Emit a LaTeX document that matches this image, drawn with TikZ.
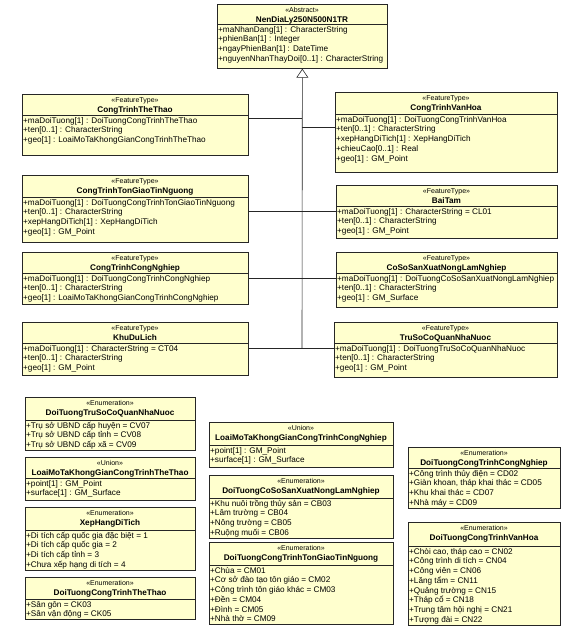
\documentclass[tikz,border=0pt]{standalone}
\usepackage{fontspec}
\setmainfont{Liberation Sans}
\usepackage{tikz}
\usetikzlibrary{arrows.meta,calc,positioning}
\definecolor{classfill}{RGB}{255,255,206}
\tikzset{%
	classbox/.style  = {draw=black!85, fill=classfill, line width=0.7pt, rectangle, inner sep=0pt}, % class frame
	classline/.style = {draw=black!85, line width=0.6pt}, % header rule
	stereo/.style    = {anchor=base, inner sep=0pt, font=\fontsize{7}{8}\selectfont}, % stereotype
	classname/.style = {anchor=base, inner sep=0pt, font=\fontsize{8.2}{10}\selectfont\bfseries}, % class name
	attrs/.style     = {anchor=north west, inner sep=1pt, align=left, font=\fontsize{8.2}{9.7}\selectfont}, % attributes
	link/.style      = {draw=black!85, line width=0.6pt},
	inherit/.style   = {link, -{Triangle[open, length=9pt, width=12pt]}},
}
% name, left, top, right, rule, bottom, stereotype, name text, attributes
\newcommand{\umlbox}[9]{%
	\node[classbox, anchor=north west, minimum width={(#4-#2)*1pt}, minimum height={(#6-#3)*1pt}] (#1) at (#2,#3) {};
	\draw[classline] (#2,#5) -- (#4,#5);
	\node[stereo] at ({(#2+#4)/2},{#3+8.5}) {«#7»};
	\node[classname] at ({(#2+#4)/2},{#3+18}) {#8};
	\node[attrs] at (#2,{#5-2}) {\rule{0pt}{9pt}#9};
}

\begin{document}
\begin{tikzpicture}[x=1pt, y=-1pt]
	\useasboundingbox[fill=white] (0,0) rectangle (575,630);
	% abstract parent
	\umlbox{nenDiaLy}{217}{4}{387}{24}{68}{Abstract}{NenDiaLy250N500N1TR}{+maNhanDang[1] : CharacterString\\+phienBan[1] : Integer\\+ngayPhienBan[1] : DateTime\\+nguyenNhanThayDoi[0..1] : CharacterString}
	% feature types
	\umlbox{theThao}{22}{94}{248}{115}{155}{FeatureType}{CongTrinhTheThao}{+maDoiTuong[1] : DoiTuongCongTrinhTheThao\\+ten[0..1] : CharacterString\\+geo[1] : LoaiMoTaKhongGianCongTrinhTheThao}
	\umlbox{vanHoa}{335}{92}{557}{114}{172}{FeatureType}{CongTrinhVanHoa}{+maDoiTuong[1] : DoiTuongCongTrinhVanHoa\\+ten[0..1] : CharacterString\\+xepHangDiTich[1] : XepHangDiTich\\+chieuCao[0..1] : Real\\+geo[1] : GM\_Point}
	\umlbox{tonGiao}{22}{175}{248}{197}{242}{FeatureType}{CongTrinhTonGiaoTinNguong}{+maDoiTuong[1] : DoiTuongCongTrinhTonGiaoTinNguong\\+ten[0..1] : CharacterString\\+xepHangDiTich[1] : XepHangDiTich\\+geo[1] : GM\_Point}
	\umlbox{baiTam}{336}{185}{557}{206}{238}{FeatureType}{BaiTam}{+maDoiTuong[1] : CharacterString = CL01\\+ten[0..1] : CharacterString\\+geo[1] : GM\_Point}
	\umlbox{congNghiep}{22}{252}{248}{273}{304}{FeatureType}{CongTrinhCongNghiep}{+maDoiTuong[1] : DoiTuongCongTrinhCongNghiep\\+ten[0..1] : CharacterString\\+geo[1] : LoaiMoTaKhongGianCongTrinhCongNghiep}
	\umlbox{coSo}{336}{252}{557}{273}{307}{FeatureType}{CoSoSanXuatNongLamNghiep}{+maDoiTuong[1] : DoiTuongCoSoSanXuatNongLamNghiep\\+ten[0..1] : CharacterString\\+geo[1] : GM\_Surface}
	\umlbox{khuDuLich}{22}{322}{248}{343}{375}{FeatureType}{KhuDuLich}{+maDoiTuong[1] : CharacterString = CT04\\+ten[0..1] : CharacterString\\+geo[1] : GM\_Point}
	\umlbox{truSo}{334}{322}{557}{343}{377}{FeatureType}{TruSoCoQuanNhaNuoc}{+maDoiTuong[1] : DoiTuongTruSoCoQuanNhaNuoc\\+ten[0..1] : CharacterString\\+geo[1] : GM\_Point}
	% enumerations and unions
	\umlbox{enumTruSo}{25}{397}{195}{420}{450}{Enumeration}{DoiTuongTruSoCoQuanNhaNuoc}{+Trụ sở UBND cấp huyện = CV07\\+Trụ sở UBND cấp tỉnh = CV08\\+Trụ sở UBND cấp xã = CV09}
	\umlbox{unionTheThao}{25}{457}{195}{478}{500}{Union}{LoaiMoTaKhongGianCongTrinhTheThao}{+point[1] : GM\_Point\\+surface[1] : GM\_Surface}
	\umlbox{enumXepHang}{25}{507}{195}{530}{570}{Enumeration}{XepHangDiTich}{+Di tích cấp quốc gia đặc biệt = 1\\+Di tích cấp quốc gia = 2\\+Di tích cấp tỉnh = 3\\+Chưa xếp hạng di tích = 4}
	\umlbox{enumTheThao}{25}{577}{195}{599}{619}{Enumeration}{DoiTuongCongTrinhTheThao}{+Sân gôn = CK03\\+Sân vận động = CK05}
	\umlbox{unionCongNghiep}{209}{422}{393}{445}{467}{Union}{LoaiMoTaKhongGianCongTrinhCongNghiep}{+point[1] : GM\_Point\\+surface[1] : GM\_Surface}
	\umlbox{enumCoSo}{209}{475}{393}{498}{538}{Enumeration}{DoiTuongCoSoSanXuatNongLamNghiep}{+Khu nuôi trồng thủy sản = CB03\\+Lâm trường = CB04\\+Nông trường = CB05\\+Ruộng muối = CB06}
	\umlbox{enumTonGiao}{209}{542}{393}{565}{624}{Enumeration}{DoiTuongCongTrinhTonGiaoTinNguong}{+Chùa = CM01\\+Cơ sở đào tạo tôn giáo = CM02\\+Công trình tôn giáo khác = CM03\\+Đền = CM04\\+Đình = CM05\\+Nhà thờ = CM09}
	\umlbox{enumCongNghiep}{408}{447}{560}{468}{508}{Enumeration}{DoiTuongCongTrinhCongNghiep}{+Công trình thủy điện = CD02\\+Giàn khoan, tháp khai thác = CD05\\+Khu khai thác = CD07\\+Nhà máy = CD09}
	\umlbox{enumVanHoa}{408}{522}{560}{546}{625}{Enumeration}{DoiTuongCongTrinhVanHoa}{+Chòi cao, tháp cao = CN02\\+Công trình di tích = CN04\\+Công viên = CN06\\+Lăng tẩm = CN11\\+Quảng trường = CN15\\+Tháp cổ = CN18\\+Trung tâm hội nghị = CN21\\+Tượng đài = CN22}
	% generalization tree
	\coordinate (jTheThao) at (302,118);
	\coordinate (jVanHoa) at (302,127);
	\coordinate (jRow2) at (302,211);
	\coordinate (jRow3) at (302,278);
	\coordinate (jRow4) at (302,348);
	\draw[inherit] (jRow4) -- (nenDiaLy.south);
	\draw[link] (theThao.east |- jTheThao) -- (jTheThao);
	\draw[link] (jVanHoa) -- (vanHoa.west |- jVanHoa);
	\draw[link] (tonGiao.east |- jRow2) -- (baiTam.west |- jRow2);
	\draw[link] (congNghiep.east |- jRow3) -- (coSo.west |- jRow3);
	\draw[link] (khuDuLich.east |- jRow4) -- (truSo.west |- jRow4);
\end{tikzpicture}
\end{document}
